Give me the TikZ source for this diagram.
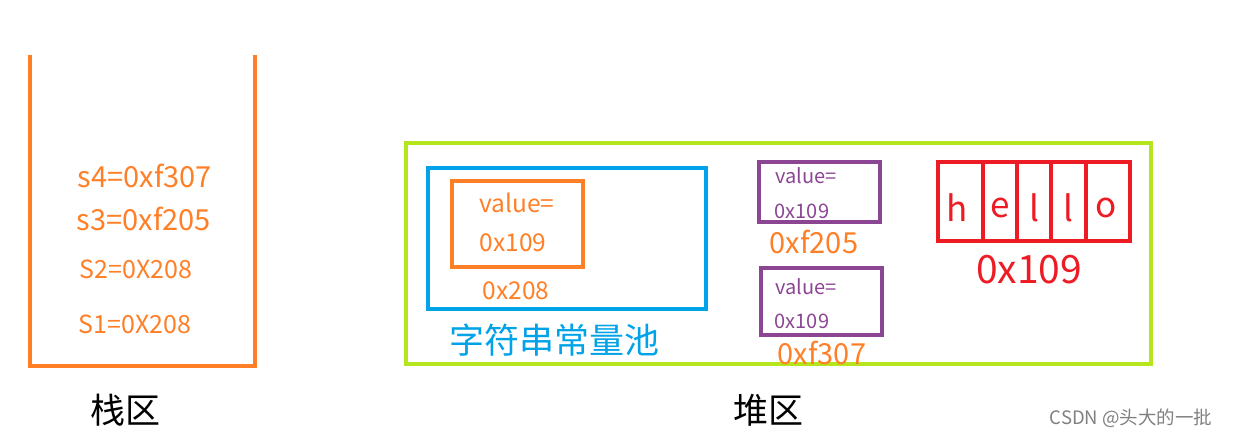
\documentclass[tikz,border=0pt]{standalone}
\usepackage{fontspec}
\setmainfont{Noto Sans CJK SC}
\definecolor{cOrange}{RGB}{255,127,39}
\definecolor{cGreen}{RGB}{181,230,29}
\definecolor{cBlue}{RGB}{0,162,232}
\definecolor{cPurple}{RGB}{139,69,147}
\definecolor{cRed}{RGB}{237,28,36}
\tikzset{
  fs/.style={font=\fontsize{#1}{#1}\selectfont},
  txt/.style={inner sep=0pt, anchor=center},
  boxline/.style={line width=4pt, line join=miter},
}
\begin{document}
\begin{tikzpicture}[x=1pt,y=-1pt]
\useasboundingbox (0,0) rectangle (1233,437);
% stack
\draw[boxline, cOrange] (30,55) -- (30,366) -- (255,366) -- (255,55);
\node[txt, cOrange, fs=29] (s4) at (145,176) {s4=0xf307};
\node[txt, cOrange, fs=29] (s3) at (144,219) {s3=0xf205};
\node[txt, cOrange, fs=25] (s2) at (136,269) {S2=0X208};
\node[txt, cOrange, fs=25] (s1) at (135,324) {S1=0X208};
\node[txt, black, fs=35] (zhan) at (125,410) {栈区};
% heap
\draw[boxline, cGreen] (406,143) rectangle (1151,364);
\draw[boxline, cBlue] (428,168) rectangle (706,309);
\draw[boxline, cOrange] (452,181) rectangle (583,267);
\node[txt, cOrange, fs=24.5] (v1) at (517,203) {value=};
\node[txt, cOrange, fs=24.5] (a1) at (513,243) {0x109};
\node[txt, cOrange, fs=24.5] (a208) at (516,291) {0x208};
\node[txt, cBlue, fs=35] (pool) at (554,340) {字符串常量池};
% purple boxes
\draw[boxline, cPurple] (759,162) rectangle (880,222);
\node[txt, cPurple, fs=20] (v2) at (806,176) {value=};
\node[txt, cPurple, fs=20] (a2) at (802,211) {0x109};
\node[txt, cOrange, fs=29] (f205) at (814,242) {0xf205};
\draw[boxline, cPurple] (761,268) rectangle (882,335);
\node[txt, cPurple, fs=20] (v3) at (806,287) {value=};
\node[txt, cPurple, fs=20] (a3) at (802,321) {0x109};
\node[txt, cOrange, fs=29] (f307) at (822,353) {0xf307};
% hello
\draw[boxline, cRed] (938,162) rectangle (1130,241);
\draw[boxline, cRed] (983,162) -- (983,241);
\draw[boxline, cRed] (1017,162) -- (1017,241);
\draw[boxline, cRed] (1051,162) -- (1051,241);
\draw[boxline, cRed] (1086,162) -- (1086,241);
\node[txt, cRed, fs=35] (h) at (957,208) {h};
\node[txt, cRed, fs=35] (e) at (1000,208) {e};
\node[txt, cRed, fs=35] (l1) at (1034,208) {l};
\node[txt, cRed, fs=35] (l2) at (1068,208) {l};
\node[txt, cRed, fs=35] (o) at (1106,208) {o};
\node[txt, cRed, fs=39] (a109) at (1029,270) {0x109};
\node[txt, black, fs=35] (dui) at (768,410) {堆区};
\node[txt, gray, fs=18.5] (csdn) at (1131,418) {CSDN @头大的一批};
\end{tikzpicture}
\end{document}
